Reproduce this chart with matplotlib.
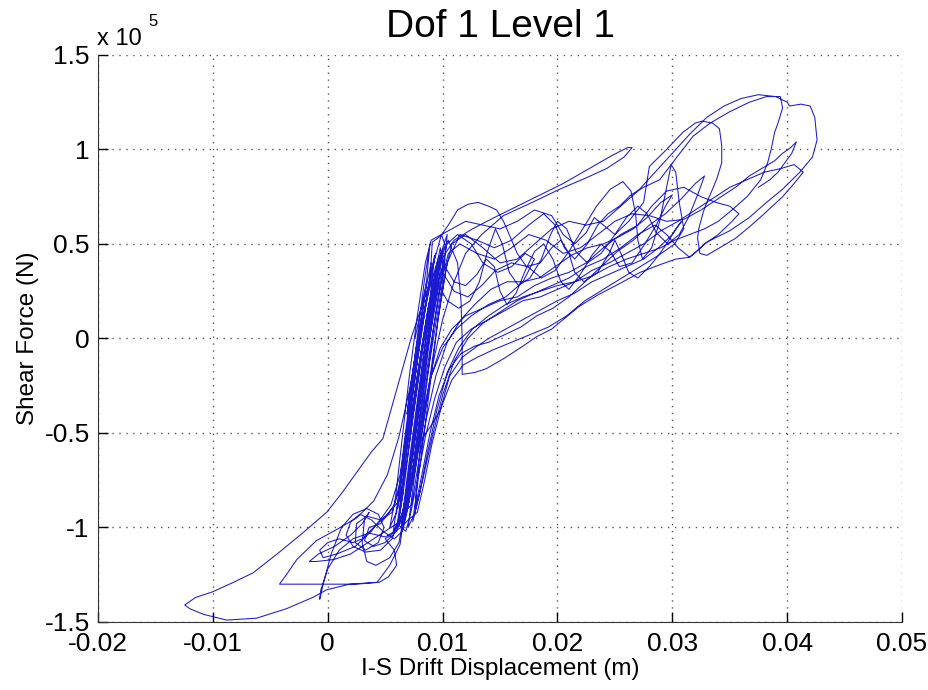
import numpy as np
import matplotlib.pyplot as plt

plt.rcParams['font.family'] = ['Liberation Sans', 'DejaVu Sans']

# trace, in order: (drift in mm, shear in 1e5 N)
start_core = [(7.6, 0.00), (8.2, 0.18), (8.6, 0.30), (8.3, 0.15), (7.7, -0.05), (7.2, -0.25),
              (6.9, -0.40), (7.3, -0.22), (7.9, 0.02), (8.5, 0.25), (9.0, 0.40), (8.8, 0.28),
              (8.0, 0.00), (7.3, -0.30), (6.7, -0.55), (6.4, -0.72), (6.8, -0.55), (7.5, -0.25),
              (8.2, 0.05), (8.9, 0.30), (9.4, 0.45), (9.0, 0.35), (8.1, 0.02), (7.2, -0.35),
              (6.5, -0.70), (6.1, -0.90), (6.4, -0.80), (7.0, -0.55), (7.8, -0.20), (8.7, 0.15),
              (9.6, 0.40), (10.4, 0.50)]
first_swing = [(11.3, 0.55), (12.5, 0.50), (13.5, 0.40), (14.8, 0.35), (16.0, 0.38), (17.2, 0.45),
               (18.0, 0.42), (17.0, 0.30), (15.5, 0.22), (14.0, 0.18), (12.5, 0.12), (11.2, 0.05),
               (10.0, -0.05), (9.0, -0.20), (8.2, -0.45), (7.5, -0.70), (6.9, -0.92), (6.5, -1.02)]
low_tangle = [(5.8, -1.06), (4.8, -1.02), (3.8, -0.96), (2.8, -0.93), (2.0, -0.97), (1.6, -1.04),
              (2.2, -1.10), (3.3, -1.13), (4.6, -1.12), (5.6, -1.06), (6.2, -0.95), (6.6, -0.80),
              (6.2, -0.86), (5.2, -0.93), (4.0, -1.00), (3.0, -1.06), (2.2, -1.08), (1.0, -1.06),
              (0.0, -1.08), (-0.7, -1.12), (-0.4, -1.16), (0.8, -1.14), (2.4, -1.10), (3.8, -1.02),
              (4.8, -0.94), (5.5, -0.88), (6.3, -0.72), (7.0, -0.45), (7.8, -0.12), (8.6, 0.20),
              (9.3, 0.42), (9.9, 0.55), (10.3, 0.48), (9.6, 0.25), (8.8, -0.02), (8.0, -0.32),
              (7.3, -0.62), (6.7, -0.88), (6.4, -1.00)]
low_spike = [(5.0, -1.05), (3.6, -1.03), (2.2, -1.06), (1.0, -1.12), (0.0, -1.22), (-0.6, -1.33),
             (-0.7, -1.38), (-0.4, -1.30), (0.3, -1.14), (1.2, -1.00), (2.2, -0.93), (3.4, -0.90),
             (4.4, -0.93), (4.9, -1.00), (4.4, -1.08), (3.3, -1.12), (2.4, -1.08), (2.5, -0.98),
             (3.4, -0.94), (4.6, -0.96), (5.6, -0.92), (6.3, -0.78), (7.1, -0.48), (7.9, -0.15),
             (8.8, 0.18), (9.7, 0.40)]
tongue = [(11.0, 0.52), (12.6, 0.58), (14.5, 0.64), (16.5, 0.70), (18.5, 0.76), (20.5, 0.82),
          (22.8, 0.90), (24.8, 0.97), (26.1, 1.01), (26.5, 1.01), (25.8, 0.96), (24.3, 0.90),
          (22.5, 0.85), (20.2, 0.79), (17.8, 0.72), (15.3, 0.65), (13.4, 0.55), (12.0, 0.45),
          (11.0, 0.30), (10.0, 0.10), (9.1, -0.15), (8.3, -0.45), (7.6, -0.70), (7.0, -0.88),
          (6.5, -1.00)]
big_low_loop = [(6.3, -1.09), (5.4, -1.20), (4.3, -1.29), (1.9, -1.30), (-0.1, -1.33), (-1.3, -1.37),
                (-3.6, -1.43), (-6.2, -1.48), (-8.8, -1.49), (-10.8, -1.46), (-12.0, -1.43),
                (-12.45, -1.41), (-11.5, -1.37), (-10.0, -1.34), (-8.2, -1.29), (-6.5, -1.24),
                (-4.2, -1.13), (-2.2, -1.03), (-0.1, -0.92), (1.2, -0.82), (2.5, -0.71),
                (3.8, -0.60), (4.8, -0.53), (6.0, -0.27), (7.3, 0.01), (8.9, 0.30), (9.1, 0.51),
                (9.8, 0.54)]
top_left = [(10.5, 0.60), (11.3, 0.68), (12.2, 0.71), (13.1, 0.72), (14.0, 0.70), (14.7, 0.68),
            (15.3, 0.62), (15.8, 0.55), (16.5, 0.45), (17.3, 0.38), (18.5, 0.40), (19.5, 0.48),
            (20.3, 0.52), (21.0, 0.45), (21.5, 0.35), (22.3, 0.30), (23.5, 0.35), (24.5, 0.45),
            (25.0, 0.52), (25.6, 0.44), (26.2, 0.35), (27.0, 0.32), (28.0, 0.38), (28.8, 0.44),
            (29.5, 0.50), (30.3, 0.58), (30.8, 0.62), (30.0, 0.55), (28.8, 0.48), (27.5, 0.42),
            (26.0, 0.38), (24.5, 0.34), (23.0, 0.30), (21.5, 0.24), (20.0, 0.20), (18.5, 0.15),
            (17.0, 0.10), (15.5, 0.05), (14.0, 0.00), (12.8, -0.05), (11.7, -0.10), (10.6, -0.20),
            (9.8, -0.38), (8.9, -0.47), (8.0, -0.55), (7.4, -0.72), (6.9, -0.90), (6.6, -0.99)]
core_a = [(6.9, -0.80), (7.5, -0.50), (8.1, -0.22), (8.7, 0.08), (9.3, 0.30), (9.7, 0.38),
          (9.2, 0.18), (8.5, -0.10), (7.8, -0.40), (7.1, -0.72), (6.6, -0.92), (6.0, -1.00),
          (6.3, -0.88), (7.0, -0.60), (7.7, -0.30), (8.4, 0.00), (9.0, 0.22), (9.5, 0.35),
          (9.0, 0.12), (8.2, -0.22), (7.5, -0.52), (6.9, -0.80), (6.3, -0.98), (5.5, -1.04),
          (5.0, -1.06)]
flat_bottom = [(5.8, -1.12), (6.0, -1.20), (5.3, -1.26), (4.5, -1.29), (2.5, -1.30), (0.0, -1.30),
               (-2.0, -1.30), (-4.2, -1.30), (-3.6, -1.25), (-2.7, -1.17), (-1.0, -1.07),
               (0.8, -1.01), (2.5, -0.95), (4.0, -0.86), (5.2, -0.72), (6.2, -0.52), (7.2, -0.25),
               (8.0, 0.02), (8.8, 0.25), (9.6, 0.42), (10.5, 0.52)]
mid_band = [(11.3, 0.40), (11.6, 0.20), (11.7, 0.00), (11.7, -0.10), (11.7, -0.19), (12.8, -0.18),
            (13.8, -0.16), (15.5, -0.10), (17.0, -0.04), (18.2, 0.01), (19.5, 0.05), (20.5, 0.10),
            (21.9, 0.17), (23.5, 0.23), (25.4, 0.29), (27.2, 0.35), (28.9, 0.39), (30.3, 0.42),
            (31.5, 0.43), (32.1, 0.46), (32.8, 0.50), (34.0, 0.55), (35.2, 0.62), (35.8, 0.66),
            (35.0, 0.70), (33.8, 0.72), (32.5, 0.75), (31.0, 0.80), (29.5, 0.78), (28.2, 0.70),
            (27.0, 0.60), (25.5, 0.55), (24.0, 0.48), (22.5, 0.40), (21.0, 0.35), (19.5, 0.32),
            (18.0, 0.28), (16.5, 0.22), (15.0, 0.20), (13.5, 0.16), (12.0, 0.12), (10.8, 0.05),
            (9.8, -0.05), (8.9, -0.22), (8.0, -0.48), (7.2, -0.76), (6.7, -0.94)]
core_b = [(7.1, -0.68), (7.8, -0.38), (8.4, -0.12), (9.0, 0.15), (9.6, 0.36), (10.0, 0.44),
          (9.4, 0.22), (8.6, -0.08), (7.9, -0.35), (7.2, -0.66), (6.6, -0.90), (6.0, -1.02),
          (5.0, -1.08), (4.0, -1.10), (3.2, -1.07), (3.6, -1.00), (4.6, -0.98), (5.8, -0.88),
          (6.6, -0.68), (7.4, -0.38), (8.2, -0.05), (9.0, 0.25), (9.8, 0.48)]
wavy_a = [(10.0, 0.40), (11.0, 0.30), (12.0, 0.28), (13.0, 0.34), (13.8, 0.42), (14.5, 0.38),
          (15.0, 0.25), (15.6, 0.18), (16.4, 0.24), (17.2, 0.36), (18.0, 0.46), (18.8, 0.50),
          (19.6, 0.42), (20.3, 0.30), (21.0, 0.26), (22.0, 0.34), (23.0, 0.44), (23.8, 0.50),
          (24.6, 0.46), (25.4, 0.38), (26.5, 0.40), (27.6, 0.50), (28.6, 0.60), (29.4, 0.70),
          (30.0, 0.76), (29.0, 0.72), (27.8, 0.64), (26.6, 0.58), (25.4, 0.54), (24.0, 0.50),
          (22.6, 0.48), (21.2, 0.44), (19.8, 0.38), (18.4, 0.32), (17.0, 0.30), (15.6, 0.30),
          (14.2, 0.26), (12.8, 0.18), (11.6, 0.10), (10.4, -0.02), (9.4, -0.20), (8.6, -0.42),
          (7.9, -0.66), (7.3, -0.88)]
core_d = [(6.2, -0.95), (6.8, -0.62), (7.4, -0.30), (8.0, -0.02), (8.7, 0.26), (9.3, 0.44),
          (8.9, 0.20), (8.1, -0.12), (7.4, -0.42), (6.7, -0.76), (6.2, -0.96), (5.7, -1.02),
          (6.1, -0.86), (6.6, -0.58), (7.3, -0.24), (7.9, 0.06), (8.4, 0.30), (8.9, 0.50),
          (8.6, 0.30), (7.9, 0.00), (7.2, -0.32), (6.6, -0.64), (6.0, -0.92), (5.4, -1.00),
          (5.9, -0.84), (6.5, -0.52), (7.1, -0.20), (7.8, 0.12), (8.5, 0.40), (9.0, 0.52)]
hump_loop = [(10.8, 0.58), (12.0, 0.62), (13.5, 0.60), (15.0, 0.58), (16.5, 0.62), (18.0, 0.68),
             (19.5, 0.65), (20.5, 0.55), (21.5, 0.50), (22.5, 0.56), (23.2, 0.64), (24.0, 0.60),
             (25.0, 0.55), (26.2, 0.62), (27.5, 0.72), (28.0, 0.91), (29.5, 1.00), (30.9, 1.09),
             (32.0, 1.14), (32.6, 1.15), (33.5, 1.14), (34.1, 1.11), (34.3, 1.02), (34.3, 0.93),
             (33.9, 0.85), (33.5, 0.79), (33.0, 0.72), (32.7, 0.67), (32.3, 0.58), (32.2, 0.53),
             (32.4, 0.45), (33.0, 0.44), (34.4, 0.49), (35.5, 0.53), (36.7, 0.59), (38.0, 0.66),
             (39.6, 0.75), (40.6, 0.82), (41.4, 0.88), (40.6, 0.92), (39.5, 0.90), (38.0, 0.88),
             (36.5, 0.84), (35.0, 0.80), (33.5, 0.74), (32.0, 0.68), (30.5, 0.62), (29.0, 0.57),
             (27.5, 0.50), (26.0, 0.45), (24.5, 0.40), (23.0, 0.36), (21.5, 0.30), (20.0, 0.26),
             (18.5, 0.22), (17.0, 0.20), (15.5, 0.15), (14.0, 0.10), (12.5, 0.05), (11.2, -0.02),
             (10.2, -0.15), (9.3, -0.32), (8.5, -0.52), (7.8, -0.75), (7.2, -0.93), (6.8, -1.02)]
low_tangle_b = [(6.0, -0.98), (5.0, -1.02), (3.5, -1.08), (2.0, -1.14), (0.5, -1.17), (-1.0, -1.18),
                (-1.6, -1.18), (-0.8, -1.14), (0.6, -1.10), (2.0, -1.04), (3.0, -0.98), (3.6, -0.92),
                (3.2, -0.96), (3.0, -1.08), (3.4, -1.18), (4.2, -1.20), (5.4, -1.16), (6.2, -1.08),
                (6.6, -0.95)]
core_c = [(7.3, -0.75), (7.9, -0.46), (8.5, -0.18), (9.1, 0.10), (9.7, 0.32), (10.2, 0.42),
          (9.7, 0.24), (9.0, -0.02), (8.3, -0.30), (7.6, -0.60), (7.0, -0.86), (6.5, -1.00),
          (6.8, -0.88), (7.4, -0.62), (8.1, -0.30), (8.8, 0.00), (9.4, 0.28), (10.0, 0.46)]
wavy_c = [(10.0, 0.35), (11.0, 0.25), (12.2, 0.22), (13.4, 0.28), (14.6, 0.36), (16.0, 0.40),
          (17.4, 0.38), (18.6, 0.32), (19.8, 0.36), (21.0, 0.46), (22.2, 0.58), (23.4, 0.70),
          (24.6, 0.79), (25.7, 0.83), (26.4, 0.78), (26.8, 0.66), (27.0, 0.52), (27.4, 0.42),
          (28.2, 0.48), (28.9, 0.62), (29.5, 0.80), (29.9, 0.92), (30.3, 0.88), (30.6, 0.72),
          (31.0, 0.58), (30.2, 0.50), (28.8, 0.44), (27.2, 0.38), (25.6, 0.32), (24.0, 0.26),
          (22.4, 0.20), (20.8, 0.12), (19.2, 0.06), (17.6, 0.02), (16.0, -0.02), (14.4, -0.06),
          (13.0, -0.10), (11.8, -0.14), (10.8, -0.22), (9.9, -0.36), (9.1, -0.55), (8.4, -0.76),
          (7.8, -0.92)]
core_e = [(7.0, -0.96), (6.4, -1.00), (6.9, -0.74), (7.6, -0.42), (8.3, -0.10), (9.0, 0.18),
          (9.8, 0.44), (10.4, 0.55), (10.0, 0.30), (9.2, 0.00), (8.4, -0.30), (7.7, -0.60),
          (7.1, -0.86), (6.6, -0.98)]
wavy_b = [(9.5, 0.30), (10.4, 0.20), (11.4, 0.16), (12.4, 0.20), (13.2, 0.30), (13.9, 0.46),
          (14.6, 0.58), (15.2, 0.50), (15.8, 0.35), (16.6, 0.28), (17.6, 0.32), (18.6, 0.42),
          (19.4, 0.55), (20.0, 0.62), (20.8, 0.58), (21.6, 0.46), (22.6, 0.40), (23.8, 0.45),
          (25.0, 0.55), (26.0, 0.64), (27.0, 0.70), (27.8, 0.66), (28.6, 0.56), (29.6, 0.50),
          (30.6, 0.55), (31.4, 0.64), (32.2, 0.76), (32.8, 0.86), (32.0, 0.82), (30.8, 0.74),
          (29.4, 0.66), (28.0, 0.60), (26.6, 0.52), (25.2, 0.46), (23.8, 0.38), (22.4, 0.30),
          (21.0, 0.22), (19.6, 0.16), (18.2, 0.12), (16.8, 0.06), (15.4, 0.02), (14.0, -0.02),
          (12.8, -0.04), (11.6, -0.08), (10.6, -0.16), (9.7, -0.30), (8.9, -0.50), (8.2, -0.72),
          (7.6, -0.90)]
peak_loop = [(8.0, -0.60), (8.8, -0.25), (9.6, 0.10), (10.4, 0.40), (11.5, 0.55), (13.0, 0.52),
             (14.5, 0.48), (16.0, 0.52), (17.5, 0.60), (18.8, 0.66),
             (19.8, 0.60), (20.6, 0.48), (21.5, 0.42), (22.6, 0.50), (23.5, 0.60), (24.4, 0.66),
             (25.4, 0.70), (26.4, 0.76), (27.5, 0.80), (28.9, 0.84), (30.4, 0.96), (31.8, 1.07),
             (33.3, 1.14), (35.0, 1.20), (36.7, 1.25), (38.2, 1.28), (39.4, 1.28), (39.6, 1.22),
             (39.2, 1.14), (38.9, 1.09), (38.6, 1.00), (38.3, 0.93), (37.7, 0.84), (36.5, 0.75),
             (35.2, 0.68), (34.0, 0.62), (32.8, 0.58), (31.5, 0.55), (30.2, 0.52), (29.0, 0.48),
             (27.5, 0.45), (26.0, 0.42), (24.5, 0.38), (23.0, 0.33), (21.5, 0.30), (20.0, 0.28),
             (18.5, 0.25), (17.0, 0.22), (15.5, 0.18), (14.0, 0.12), (12.6, 0.05), (11.4, -0.05),
             (10.4, -0.18), (9.5, -0.38), (8.7, -0.60), (8.0, -0.82), (7.4, -0.97)]
outer_loop = [(7.8, -0.78), (8.4, -0.50), (9.0, -0.20), (9.6, 0.10), (10.2, 0.34), (10.8, 0.50),
              (12.0, 0.55), (13.5, 0.48), (15.0, 0.40), (16.5, 0.42), (18.0, 0.50), (19.5, 0.58),
              (21.0, 0.62), (22.5, 0.60), (24.0, 0.62), (25.5, 0.70), (27.0, 0.78), (28.5, 0.88),
              (30.0, 0.98), (31.5, 1.08), (33.0, 1.17), (34.5, 1.23), (36.0, 1.27), (37.5, 1.29),
              (39.0, 1.28), (40.0, 1.25), (40.2, 1.23), (41.2, 1.24), (42.0, 1.23), (42.4, 1.17),
              (42.6, 1.05), (42.2, 0.96), (41.1, 0.88), (39.6, 0.79), (38.2, 0.72), (36.7, 0.64),
              (35.0, 0.57), (33.0, 0.51), (32.1, 0.46), (31.5, 0.43), (30.5, 0.48), (29.5, 0.55),
              (28.5, 0.60), (27.0, 0.55), (25.5, 0.48), (24.0, 0.42), (22.5, 0.38), (21.0, 0.32),
              (19.5, 0.28), (18.0, 0.24), (16.5, 0.20), (15.0, 0.14), (13.5, 0.08), (12.2, 0.00),
              (11.0, -0.12), (10.0, -0.30), (9.1, -0.52), (8.3, -0.74), (7.6, -0.92), (7.0, -1.00)]
last_swing = [(7.4, -0.80), (8.0, -0.52), (8.6, -0.25), (9.2, 0.05), (9.8, 0.28), (10.5, 0.45),
              (11.5, 0.50), (13.0, 0.45), (14.5, 0.42), (16.0, 0.48), (17.5, 0.55), (19.0, 0.52),
              (20.5, 0.45), (22.0, 0.48), (23.5, 0.55), (25.0, 0.62), (26.5, 0.66), (28.0, 0.65),
              (29.5, 0.62), (31.0, 0.63), (32.5, 0.68), (34.0, 0.74), (35.5, 0.80), (36.7, 0.86),
              (37.8, 0.90), (38.9, 0.94), (39.6, 0.98), (40.3, 1.01), (40.8, 1.04), (40.4, 0.98),
              (39.8, 0.93), (39.2, 0.88), (38.5, 0.84), (37.5, 0.80)]

phases = [start_core, first_swing, low_tangle, low_spike, tongue, big_low_loop, top_left, core_a,
          flat_bottom, mid_band, core_b, wavy_a, core_d, hump_loop, low_tangle_b, core_c, wavy_c,
          core_e, wavy_b, peak_loop, outer_loop, last_swing]
trace = np.array([pt for ph in phases for pt in ph])
drift = trace[:, 0] / 1000.0
shear = trace[:, 1]

xticks = [-0.02, -0.01, 0, 0.01, 0.02, 0.03, 0.04, 0.05]
xlabels = ['-0.02', '-0.01', '0', '0.01', '0.02', '0.03', '0.04', '0.05']
yticks = [-1.5, -1, -0.5, 0, 0.5, 1, 1.5]
ylabels = ['-1.5', '-1', '-0.5', '0', '0.5', '1', '1.5']

fig = plt.figure(figsize=(9.29, 6.9), dpi=100)
ax = fig.add_axes([0.1055, 0.0986, 0.8655, 0.8217])

ax.plot(drift, shear, color='#1a1ad0', linewidth=0.75)

ax.set_xlim(-0.02, 0.05)
ax.set_ylim(-1.5, 1.5)
ax.set_xticks(xticks)
ax.set_xticklabels(xlabels)
ax.set_yticks(yticks)
ax.set_yticklabels(ylabels)
ax.tick_params(direction='in', length=7, width=1, labelsize=19, top=False, right=False)
ax.tick_params(axis='x', pad=7)
ax.tick_params(axis='y', pad=6)
ax.grid(True, linestyle=(0, (1, 4)), color='#555555', linewidth=1)
for side in ['top', 'right']:
    ax.spines[side].set_visible(False)
for side in ['left', 'bottom']:
    ax.spines[side].set_color('#333333')

ax.set_title('Dof 1 Level 1', fontsize=28, pad=13)
ax.set_xlabel('I-S Drift Displacement (m)', fontsize=17.5, labelpad=2)
ax.set_ylabel('Shear Force (N)', fontsize=17.5, labelpad=4)

# MATLAB-style exponent above the y axis
fig.text(0.104, 0.935, 'x 10', fontsize=17)
fig.text(0.160, 0.962, '5', fontsize=12)

fig.savefig('out.png', dpi=100)
